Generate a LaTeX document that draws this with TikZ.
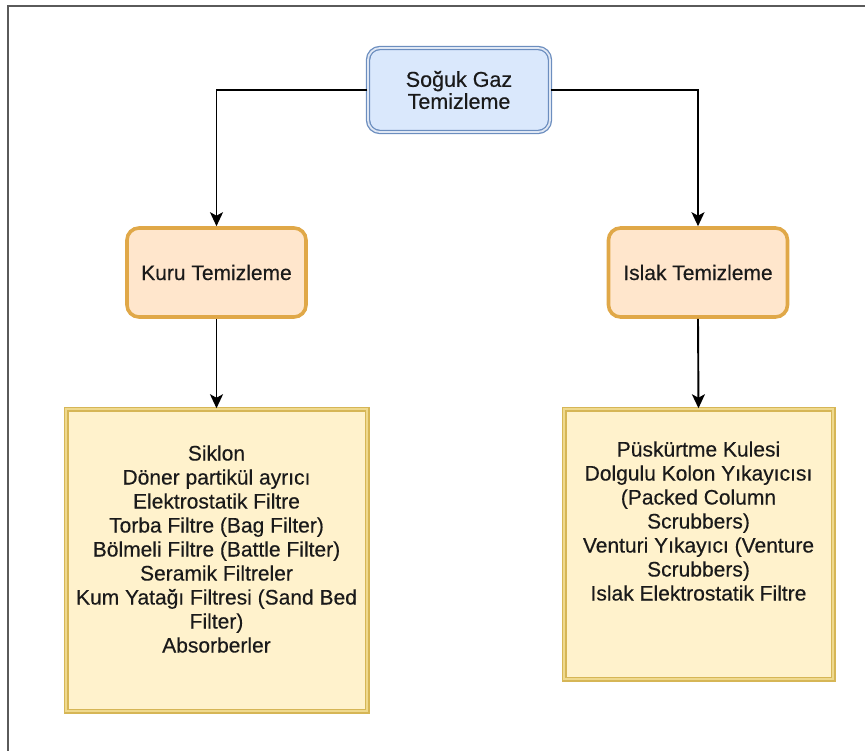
\documentclass[tikz,border=0pt]{standalone}
\usepackage{fontspec}
\setmainfont{Liberation Sans}[FakeBold=0.35]
\usetikzlibrary{arrows.meta,positioning}

\definecolor{blueFill}{HTML}{DAE8FC}
\definecolor{blueLine}{HTML}{6C8EBF}
\definecolor{orangeFill}{HTML}{FFE6CC}
\definecolor{orangeLine}{HTML}{E0A848}
\definecolor{yellowFill}{HTML}{FFF2CC}
\definecolor{yellowLine}{HTML}{D6B656}
\definecolor{yellowInner}{HTML}{EFD98E}
\definecolor{frameLine}{HTML}{5A5A5A}
\definecolor{inkText}{HTML}{1A1A1A}

\tikzset{
  rootbox/.style={draw=blueLine, line width=1.3pt, double=blueFill!60!blueLine!40, double distance=1.8pt,
    fill=blueFill, rounded corners=12pt, minimum width=182pt, minimum height=84pt,
    inner sep=0pt, align=center, text=inkText, font=\fontsize{21.5}{22}\selectfont},
  groupbox/.style={draw=orangeLine, line width=3.6pt, fill=orangeFill, rounded corners=12pt,
    minimum width=179pt, minimum height=89pt, inner sep=0pt, align=center, text=inkText,
    font=\fontsize{21}{24}\selectfont},
  listbox/.style={draw=yellowLine, line width=1.5pt, double=yellowInner, double distance=2pt,
    fill=yellowFill, inner sep=0pt},
  listtext/.style={align=center, inner sep=0pt, text=inkText, font=\fontsize{21}{24}\selectfont},
  conn/.style={draw=black, line width=1.9pt, -{Stealth[length=14pt,width=13pt,inset=3.5pt]}},
}

\begin{document}
\begin{tikzpicture}[x=1pt,y=-1pt]
  \useasboundingbox (0,0) rectangle (865,751);

  % page frame
  \draw[frameLine, line width=1.6pt] (8,751) -- (8,6) -- (865,6);

  % nodes
  \node[rootbox] (root) at (459,90) {Soğuk Gaz\\Temizleme};
  \node[groupbox] (kuru) at (216.5,272.5) {Kuru Temizleme};
  \node[groupbox] (islak) at (698,272.5) {Islak Temizleme};

  \node[listbox, minimum width=301pt, minimum height=302pt] (kuruList) at (216.5,560) {};
  \node[listbox, minimum width=269pt, minimum height=270pt] (islakList) at (698.5,544) {};

  \node[listtext] (kuruItems) at (216.5,549) {Siklon\\Döner partikül ayrıcı\\Elektrostatik Filtre\\
    Torba Filtre (Bag Filter)\\Bölmeli Filtre (Battle Filter)\\Seramik Filtreler\\
    Kum Yatağı Filtresi (Sand Bed\\Filter)\\Absorberler};
  \node[listtext] (islakItems) at (698.5,521) {Püskürtme Kulesi\\Dolgulu Kolon Yıkayıcısı\\
    (Packed Column\\Scrubbers)\\Venturi Yıkayıcı (Venture\\Scrubbers)\\Islak Elektrostatik Filtre};

  % connectors
  \draw[conn] (root.west) -| (kuru.north);
  \draw[conn] (root.east) -| (islak.north);
  \draw[conn] (kuru.south) -- (kuruList.north);
  \draw[conn] (islak.south) -- (islakList.north);
\end{tikzpicture}
\end{document}
